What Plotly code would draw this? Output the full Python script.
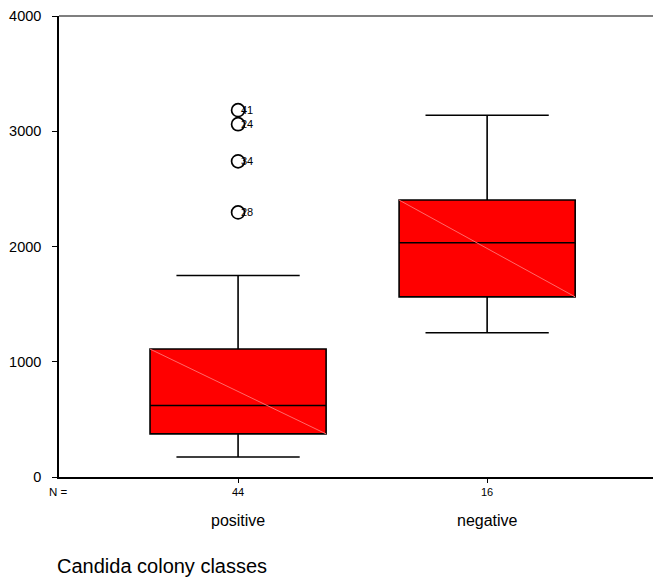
import plotly.graph_objects as go

categories = ["positive", "negative"]
n_counts = [44, 16]
q1 = [374, 1563]
median = [620, 2032]
q3 = [1110, 2403]
lower_whisker = [174, 1252]
upper_whisker = [1748, 3139]

outlier_values = [3183, 3061, 2739, 2296]
outlier_ids = ["41", "24", "34", "28"]
outlier_cat = [0, 0, 0, 0]

y_ticks = [0, 1000, 2000, 3000, 4000]

pos = [1, 2]
box_w = 0.707
FONT = "Liberation Sans, Arial, sans-serif"

fig = go.Figure()
fig.add_trace(go.Box(
    x=pos, q1=q1, median=median, q3=q3,
    lowerfence=lower_whisker, upperfence=upper_whisker,
    width=box_w, whiskerwidth=0.7,
    fillcolor="#ff0000", line=dict(color="black", width=1.6),
    boxpoints=False, showlegend=False, hoverinfo="skip",
))

# faint diagonal highlight across each box (top-left to bottom-right)
for i, p in enumerate(pos):
    fig.add_trace(go.Scatter(
        x=[p - box_w / 2, p + box_w / 2], y=[q3[i], q1[i]],
        mode="lines", line=dict(color="rgb(255,105,105)", width=1),
        showlegend=False, hoverinfo="skip",
    ))

fig.add_trace(go.Scatter(
    x=[pos[c] for c in outlier_cat], y=outlier_values, mode="markers",
    marker=dict(symbol="circle-open", size=13, color="black", line=dict(width=1.7)),
    showlegend=False, hoverinfo="skip",
))

annotations = []
for c, v, t in zip(outlier_cat, outlier_values, outlier_ids):
    annotations.append(dict(x=pos[c], y=v, text=t, showarrow=False, xanchor="left",
                            yanchor="middle", xshift=1,
                            font=dict(family=FONT, size=11, color="#000000")))
for p, cat in zip(pos, categories):
    annotations.append(dict(x=p, y=0, yref="paper", yanchor="middle", yshift=-43,
                            text=cat, showarrow=False,
                            font=dict(family=FONT, size=16, color="black")))
annotations.append(dict(x=0, xref="paper", y=0, yref="paper", yanchor="middle",
                        yshift=-15, xshift=-1, text="N =", showarrow=False,
                        xanchor="center", font=dict(family=FONT, size=11.5, color="black")))
annotations.append(dict(x=-0.007, xref="paper", y=0, yref="paper", yanchor="middle",
                        yshift=-89, text="Candida colony classes", showarrow=False,
                        xanchor="left", font=dict(family=FONT, size=20, color="black")))

fig.update_layout(
    width=653, height=582,
    margin=dict(l=59, r=0, t=16, b=105),
    plot_bgcolor="white", paper_bgcolor="white",
    annotations=annotations,
    shapes=[dict(type="line", xref="paper", yref="paper", x0=0, x1=1, y0=1, y1=1,
                 line=dict(color="black", width=1.2))],
)
fig.update_xaxes(
    range=[0.281, 2.666], tickvals=pos, ticktext=[str(n) for n in n_counts],
    ticks="outside", ticklen=4, tickcolor="black", showline=True, linecolor="black",
    linewidth=2, showgrid=False, zeroline=False,
    tickfont=dict(family=FONT, size=11, color="black"),
)
fig.update_yaxes(
    range=[0, 4000], tickvals=y_ticks, ticks="outside", ticklen=5, tickcolor="black",
    showline=True, linecolor="black", linewidth=1.5, showgrid=False, zeroline=False,
    tickfont=dict(family=FONT, size=14.5, color="black"), ticklabelstandoff=8,
)

fig.write_html("out.html", config={"displayModeBar": False},
               post_script="document.body.style.margin='0';document.body.style.overflow='hidden';")
